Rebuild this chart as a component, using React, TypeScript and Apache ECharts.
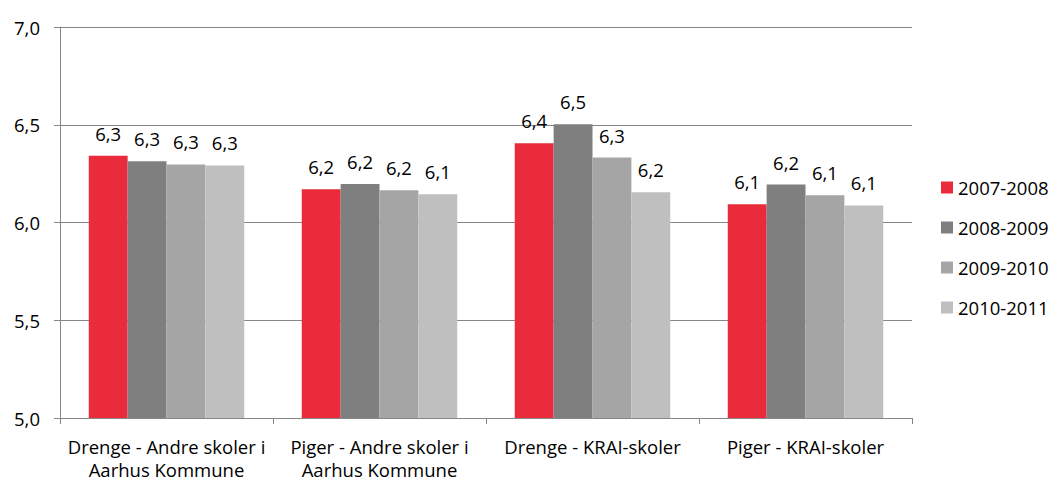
import React, { useEffect, useRef } from "react";
import * as echarts from "echarts";

const categories = [
  "Drenge - Andre skoler i\nAarhus Kommune",
  "Piger - Andre skoler i\nAarhus Kommune",
  "Drenge - KRAI-skoler",
  "Piger - KRAI-skoler",
];
const seriesNames = ["2007-2008", "2008-2009", "2009-2010", "2010-2011"];
const s2007 = [6.342, 6.17, 6.406, 6.093];
const s2008 = [6.313, 6.197, 6.503, 6.194];
const s2009 = [6.297, 6.165, 6.332, 6.139];
const s2010 = [6.292, 6.145, 6.155, 6.087];
const colors = ["#EA2B3C", "#7F7F7F", "#A5A5A5", "#BFBFBF"];

const FONT = "Open Sans";
const FS = 18.5;

export default function App() {
  const ref = useRef<HTMLDivElement>(null);
  useEffect(() => {
    if (!ref.current) return;
    const chart = echarts.init(ref.current, null, { renderer: "svg" });
    const data = [s2007, s2008, s2009, s2010];
    chart.setOption({
      animation: false,
      textStyle: { fontFamily: FONT },
      grid: { left: 60, right: 139, top: 27, bottom: 63 },
      legend: {
        orient: "vertical",
        left: 936,
        top: 173,
        itemWidth: 12,
        itemHeight: 12,
        itemGap: 21,
        icon: "rect",
        textStyle: { fontFamily: FONT, fontSize: FS, color: "#000" },
        data: seriesNames,
      },
      xAxis: {
        type: "category",
        data: categories,
        axisLine: { lineStyle: { color: "#868686", width: 1 } },
        axisTick: { show: true, length: 6, lineStyle: { color: "#868686" } },
        axisLabel: {
          color: "#000",
          fontFamily: FONT,
          fontSize: FS,
          lineHeight: 23,
          margin: 17,
          interval: 0,
        },
      },
      yAxis: {
        type: "value",
        min: 5,
        max: 7,
        interval: 0.5,
        axisLine: { show: true, lineStyle: { color: "#868686" } },
        axisTick: { show: true, length: 6, lineStyle: { color: "#868686" } },
        splitLine: { lineStyle: { color: "#868686", width: 1 } },
        axisLabel: {
          color: "#000",
          fontFamily: FONT,
          fontSize: FS,
          margin: 20,
          formatter: (v: number) => v.toFixed(1).replace(".", ","),
        },
      },
      series: seriesNames.map((name, i) => ({
        name,
        type: "bar",
        data: data[i],
        barGap: "0%",
        barCategoryGap: "27%",
        itemStyle: { color: colors[i] },
        label: {
          show: true,
          position: "top",
          distance: 13,
          color: "#000",
          fontFamily: FONT,
          fontSize: FS,
          formatter: (p: any) => (p.value as number).toFixed(1).replace(".", ","),
        },
      })),
    });
    return () => chart.dispose();
  }, []);
  return <div ref={ref} style={{ width: 1051, height: 481, position: "absolute", left: 0, top: 0 }} />;
}
